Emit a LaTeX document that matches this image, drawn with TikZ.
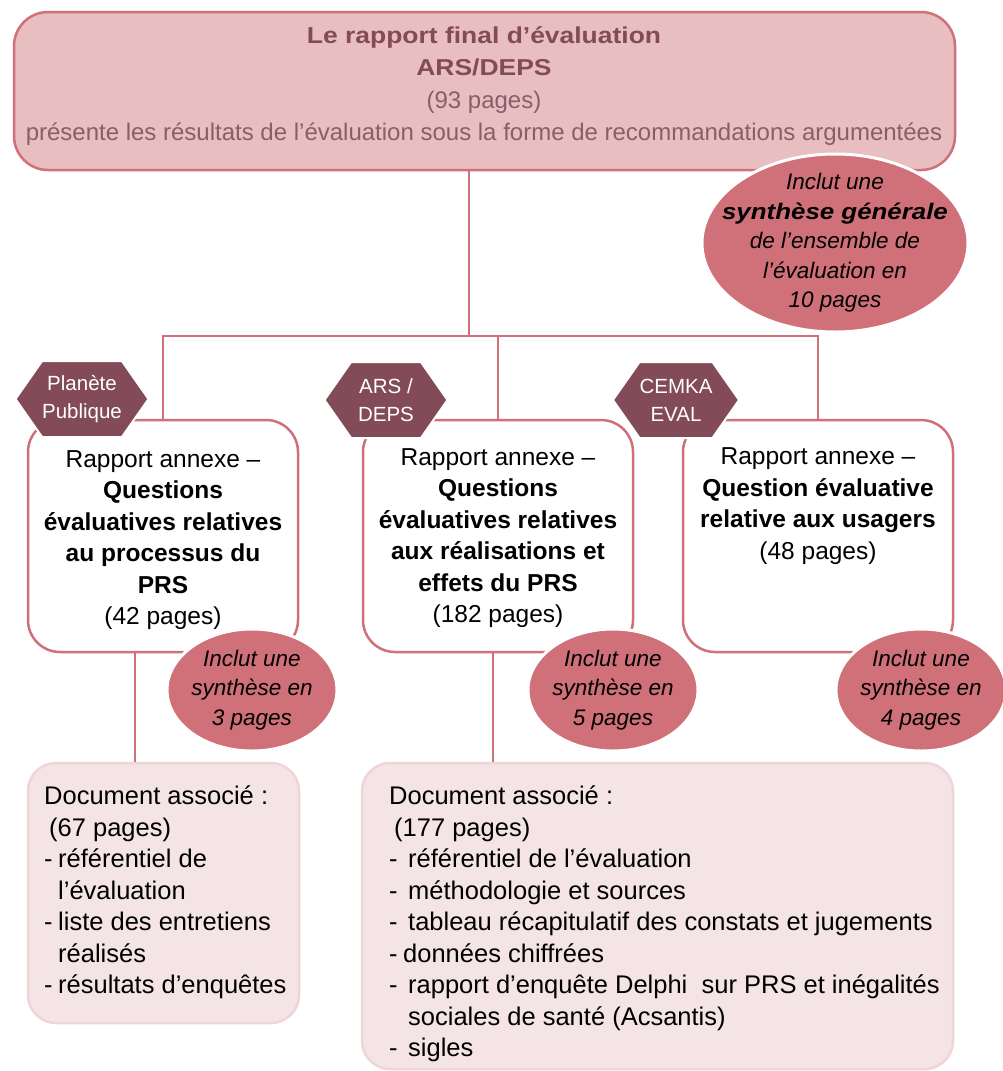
\documentclass[tikz,border=0pt]{standalone}
\usepackage{fontspec}
\setmainfont{Liberation Sans}
\newfontfamily\widefont[FakeStretch=1.15]{Liberation Sans}
\usetikzlibrary{shapes.geometric,shapes.symbols,positioning}

\definecolor{rose}{HTML}{D07079}
\definecolor{topfill}{HTML}{E8BEC1}
\definecolor{plum}{HTML}{834B58}
\definecolor{greyplum}{HTML}{8C5D68}
\definecolor{docfill}{HTML}{F5E4E6}
\definecolor{docline}{HTML}{EDD5D8}

\tikzset{
  link/.style={draw=rose, line width=2.5pt},
  topbox/.style={draw=rose, line width=2.5pt, fill=topfill, rounded corners=34pt,
    minimum width=941pt, minimum height=158pt},
  annexbox/.style={draw=rose, line width=2.5pt, fill=white, rounded corners=32pt,
    minimum width=270pt, minimum height=232pt},
  docbox/.style={draw=docline, line width=2.5pt, fill=docfill, rounded corners=28pt},
  source/.style={signal, signal to=east and west, signal pointer angle=110,
    fill=plum, draw=white, line width=2pt, text=white, align=center, inner sep=0pt,
    minimum width=123pt, minimum height=76pt, font=\fontsize{20.5}{28}\selectfont},
  synth/.style={ellipse, fill=rose, draw=white, line width=3pt, align=center,
    inner sep=-30pt, font=\itshape\fontsize{22.5}{29.5}\selectfont},
  body/.style={align=center, inner sep=0pt, font=\fontsize{24.5}{31.5}\selectfont},
  doctext/.style={align=left, inner sep=0pt, anchor=north west,
    font=\fontsize{25.5}{31.5}\selectfont},
}

\newcommand{\dash}[1]{\makebox[#1][l]{-}}

\begin{document}
\begin{tikzpicture}[x=1pt, y=-1pt]
\useasboundingbox (0,0) rectangle (1002,1071);

% rapport final
\node[topbox] (final) at (484.5,91) {};
\node[align=center, inner sep=0pt, text=greyplum, font=\fontsize{24}{32.3}\selectfont]
  (finaltxt) at (484,86)
  {{\widefont\bfseries\fontsize{23}{32.3}\selectfont\color{plum}Le rapport final d’évaluation}\\
   {\widefont\bfseries\fontsize{23}{32.3}\selectfont\color{plum}ARS/DEPS}\\
   (93 pages)\\
   présente les résultats de l’évaluation sous la forme de recommandations argumentées};

% rapports annexes
\node[annexbox] (ann1) at (163,536) {};
\node[annexbox] (ann2) at (498,536) {};
\node[annexbox] (ann3) at (818,536) {};

\node[body] (ann1txt) at (163,540)
  {Rapport annexe --\\ \textbf{Questions}\\ \textbf{évaluatives relatives}\\
   \textbf{au processus du}\\ \textbf{PRS}\\ (42 pages)};
\node[body] (ann2txt) at (498,538)
  {Rapport annexe --\\ \textbf{Questions}\\ \textbf{évaluatives relatives}\\
   \textbf{aux réalisations et}\\ \textbf{effets du PRS}\\ (182 pages)};
\node[body] (ann3txt) at (818,506)
  {Rapport annexe --\\ \textbf{Question évaluative}\\ \textbf{relative aux usagers}\\
   (48 pages)};

% documents associes
\node[docbox, minimum width=271pt, minimum height=260pt] (docA) at (163.5,893) {};
\node[docbox, minimum width=591pt, minimum height=306pt] (docB) at (657.5,916) {};

\node[doctext] (docAtxt) at (44,786)
  {Document associé :\\
   \hspace*{5pt}(67 pages)\\
   \dash{14pt}référentiel de\\
   \hspace*{14pt}l’évaluation\\
   \dash{14pt}liste des entretiens\\
   \hspace*{14pt}réalisés\\
   \dash{14pt}résultats d’enquêtes};
\node[doctext] (docBtxt) at (389,786)
  {Document associé :\\
   \hspace*{5pt}(177 pages)\\
   \dash{19pt}référentiel de l’évaluation\\
   \dash{19pt}méthodologie et sources\\
   \dash{19pt}tableau récapitulatif des constats et jugements\\
   \dash{14pt}données chiffrées\\
   \dash{19pt}rapport d’enquête Delphi\ \ sur PRS et inégalités\\
   \hspace*{19pt}sociales de santé (Acsantis)\\
   \dash{19pt}sigles};

% liens
\coordinate (split) at (469,336);
\draw[link] (final.south -| split) -- (split);
\draw[link] (ann1.north) |- (split) -| (ann3.north);
\draw[link] (ann2.north) -- (ann2.north |- split);
\draw[link] ([xshift=-28pt]ann1.south) -- ([xshift=-28pt]ann1.south |- docA.north);
\draw[link] ([xshift=-5pt]ann2.south) -- ([xshift=-5pt]ann2.south |- docB.north);

% auteurs
\node[source] (pp) at (82,399) {Planète\\ Publique};
\node[source] (ars) at (386,400) {ARS /\\ DEPS};
\node[source] (cemka) at (676,400) {CEMKA\\ EVAL};

% syntheses
\node[synth, minimum width=266pt, minimum height=178pt] (synthG) at (835,243)
  {Inclut une\\ {\widefont\bfseries synthèse générale}\\ de l’ensemble de\\ l’évaluation en\\ 10 pages};
\node[synth, minimum width=170pt, minimum height=122pt] (synth1) at (252,690)
  {Inclut une\\ synthèse en\\ 3 pages};
\node[synth, minimum width=170pt, minimum height=122pt] (synth2) at (613,690)
  {Inclut une\\ synthèse en\\ 5 pages};
\node[synth, minimum width=170pt, minimum height=122pt] (synth3) at (921,690)
  {Inclut une\\ synthèse en\\ 4 pages};
\end{tikzpicture}
\end{document}
